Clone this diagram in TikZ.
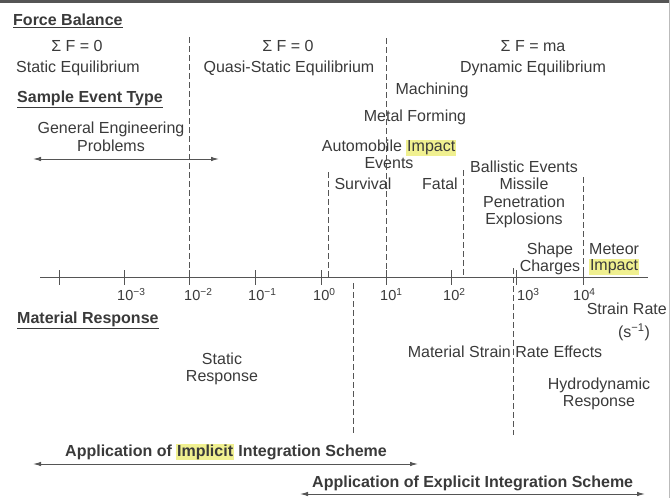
\documentclass[tikz,border=0pt]{standalone}
\usepackage{fontspec}
\setmainfont{Liberation Sans}
\usetikzlibrary{arrows.meta}
\definecolor{txt}{HTML}{3A3A3A}
\definecolor{ln}{HTML}{555555}
\definecolor{hly}{HTML}{F0F090}
\newcommand\hlt[1]{{\setlength{\fboxsep}{0.8pt}\colorbox{hly}{#1}}}
\begin{document}
\begin{tikzpicture}[x=1pt,y=-1pt,
  every node/.style={font=\fontsize{16}{17.5}\selectfont, text=txt, inner sep=0pt, align=center},
  head/.style={font=\fontsize{16}{17.5}\selectfont\bfseries},
  ticklbl/.style={font=\fontsize{14.5}{16}\selectfont, anchor=north west},
  dline/.style={draw=ln, dash pattern=on 6pt off 3pt, line width=0.8pt},
  axisline/.style={draw=ln, line width=1pt},
  darrow/.style={draw=ln, line width=1pt, {Latex[length=8pt,width=4.5pt]}-{Latex[length=8pt,width=4.5pt]}}]
\useasboundingbox (0,0) rectangle (670,498);
\fill[fill=ln] (0,0) rectangle (670,3);
\draw[draw=ln!40, line width=0.6pt] (669,0) -- (669,498);

% headings and labels
\node[head, anchor=west] (fb) at (13,21) {\underline{Force Balance}};
\node (sf1) at (77,46) {Σ F = 0};
\node (se) at (78,68) {Static Equilibrium};
\node (sf2) at (288,46) {Σ F = 0};
\node (qse) at (289,68) {Quasi-Static Equilibrium};
\node (sf3) at (533,46) {Σ F = ma};
\node (de) at (533,68) {Dynamic Equilibrium};
\node[head, anchor=west] (set) at (17,99) {\underline{Sample Event Type}};
\node (gep) at (111,137) {General Engineering\\Problems};
\node (mach) at (432,90) {Machining};
\node (mf) at (415,117) {Metal Forming};
\node (auto) at (389,154) {Automobile \hlt{Impact}\\[-1pt]Events};
\node (surv) at (363,184) {Survival};
\node (fatal) at (440,184) {Fatal};
\node (ball) at (524,194.5) {Ballistic Events\\Missile\\Penetration\\Explosions};
\node (shape) at (550,259) {Shape\\Charges};
\node[anchor=west, align=left] (met) at (589,259) {Meteor\\[-1pt]\hlt{Impact}};
\node[head, anchor=west] (mr) at (17,320) {\underline{Material Response}};
\node (sr) at (222,369) {Static\\Response};
\node (msre) at (505,352) {Material Strain Rate Effects};
\node (hr) at (599,394) {Hydrodynamic\\Response};
\node[anchor=east] (strain) at (667,309) {Strain Rate};
\node (sunit) at (634,332) {(s\textsuperscript{−1})};
\node[head, anchor=west] (impl) at (65,452) {Application of \hlt{Implicit} Integration Scheme};
\node[head, anchor=west] (expl) at (312,483) {Application of Explicit Integration Scheme};

% axis
\coordinate (ax0) at (40,277);
\coordinate (ax1) at (648,277);
\draw[axisline] (ax0) -- (ax1);
\foreach \x in {59,124,189,255,321,386,451,516,583}
  \draw[axisline] (\x,270) -- (\x,285);
\node[ticklbl] (t1) at (117,288) {10\textsuperscript{−3}};
\node[ticklbl] (t2) at (184,288) {10\textsuperscript{−2}};
\node[ticklbl] (t3) at (248,288) {10\textsuperscript{−1}};
\node[ticklbl] (t4) at (313,288) {10\textsuperscript{0}};
\node[ticklbl] (t5) at (380,288) {10\textsuperscript{1}};
\node[ticklbl] (t6) at (443,288) {10\textsuperscript{2}};
\node[ticklbl] (t7) at (517,288) {10\textsuperscript{3}};
\node[ticklbl] (t8) at (573,288) {10\textsuperscript{4}};

% dashed separators
\coordinate (d1a) at (189,37);  \coordinate (d1b) at (189,277);
\coordinate (d2a) at (386,38);  \coordinate (d2b) at (386,277);
\coordinate (d3a) at (328,172); \coordinate (d3b) at (328,277);
\coordinate (d4a) at (463,170); \coordinate (d4b) at (463,277);
\coordinate (d5a) at (583,177); \coordinate (d5b) at (583,277);
\coordinate (d6a) at (353,283); \coordinate (d6b) at (353,435);
\coordinate (d7a) at (513,268); \coordinate (d7b) at (513,435);
\foreach \a/\b in {d1a/d1b,d2a/d2b,d3a/d3b,d4a/d4b,d5a/d5b,d6a/d6b,d7a/d7b}
  \draw[dline] (\a) -- (\b);

% arrows
\coordinate (g0) at (33,159);  \coordinate (g1) at (219,159);
\coordinate (i0) at (33,464);  \coordinate (i1) at (418,464);
\coordinate (e0) at (300,494); \coordinate (e1) at (645,494);
\draw[darrow] (g0) -- (g1);
\draw[darrow] (i0) -- (i1);
\draw[darrow] (e0) -- (e1);
\end{tikzpicture}
\end{document}
